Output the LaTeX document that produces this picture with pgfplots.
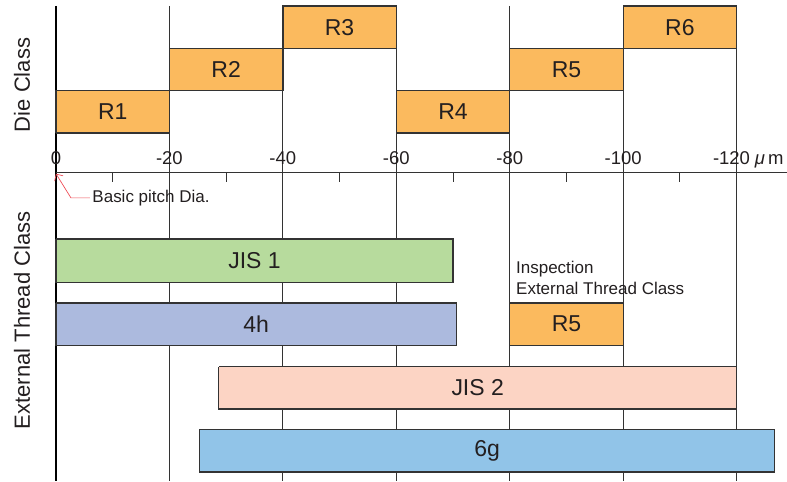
\documentclass[border=0pt]{standalone}
\usepackage{pgfplots}
\pgfplotsset{compat=1.18}
\usepackage{fontspec}
\setmainfont{Liberation Sans}
\usetikzlibrary{arrows.meta}

\definecolor{rfill}{HTML}{FBBA5E}
\definecolor{jisone}{HTML}{B7DB9D}
\definecolor{fourh}{HTML}{ACBADE}
\definecolor{jistwo}{HTML}{FCD4C4}
\definecolor{sixg}{HTML}{91C4E8}
\definecolor{edge}{HTML}{333333}
\definecolor{txt}{HTML}{231F20}
\definecolor{arrowred}{HTML}{EE4E58}

\begin{document}
\begin{tikzpicture}[
    bar/.style={draw=edge, line width=1.3pt},
    lab/.style={font=\fontsize{23}{26}\selectfont, text=txt},
    ticklab/.style={font=\fontsize{18.5}{20}\selectfont, text=txt, anchor=base},
    side/.style={font=\fontsize{22}{24}\selectfont, text=txt, rotate=90},
  ]
\begin{axis}[
    scale only axis, width=787pt, height=481pt,
    x dir=reverse,
    xmin=-128.8, xmax=9.87,
    ymin=-7.264, ymax=4.08,
    hide axis, clip=false,
  ]
\path (rel axis cs:0,0) rectangle (rel axis cs:1,1);

% grid lines
\pgfplotsinvokeforeach{-20,-40,-60,-80,-100,-120}{
  \draw[edge, line width=1pt] (axis cs:#1,3.94) -- (axis cs:#1,-7.26);
}
\draw[black, line width=1.3pt] (axis cs:0,3.94) -- (axis cs:0,-7.26);

% axis line with minor ticks
\draw[edge, line width=0.9pt] (axis cs:0,0) -- (axis cs:-128.8,0);
\pgfplotsinvokeforeach{-10,-30,-50,-70,-90,-110}{
  \draw[edge, line width=0.9pt] (axis cs:#1,0) -- (axis cs:#1,-0.21);
}
\pgfplotsinvokeforeach{0,-20,-40,-60,-80,-100}{
  \node[ticklab] at (axis cs:#1,0.19) {#1};
}
\node[ticklab] at (axis cs:-119.1,0.19) {-120};
\node[ticklab, anchor=base west] at (axis cs:-122.6,0.19) {{\itshape μ}\,m};

% die class
\addplot[bar, fill=rfill] coordinates {(0,0.94) (-20,0.94) (-20,1.94) (0,1.94) (0,0.94)};
\addplot[bar, fill=rfill] coordinates {(-20,1.94) (-40,1.94) (-40,2.94) (-20,2.94) (-20,1.94)};
\addplot[bar, fill=rfill] coordinates {(-40,2.94) (-60,2.94) (-60,3.94) (-40,3.94) (-40,2.94)};
\addplot[bar, fill=rfill] coordinates {(-60,0.94) (-80,0.94) (-80,1.94) (-60,1.94) (-60,0.94)};
\addplot[bar, fill=rfill] coordinates {(-80,1.94) (-100,1.94) (-100,2.94) (-80,2.94) (-80,1.94)};
\addplot[bar, fill=rfill] coordinates {(-100,2.94) (-120,2.94) (-120,3.94) (-100,3.94) (-100,2.94)};
\node[lab] at (axis cs:-10,1.44) {R1};
\node[lab] at (axis cs:-30,2.44) {R2};
\node[lab] at (axis cs:-50,3.44) {R3};
\node[lab] at (axis cs:-70,1.44) {R4};
\node[lab] at (axis cs:-90,2.44) {R5};
\node[lab] at (axis cs:-110,3.44) {R6};

% external thread class
\addplot[bar, fill=jisone] coordinates {(0,-1.56) (-70,-1.56) (-70,-2.58) (0,-2.58) (0,-1.56)};
\addplot[bar, fill=fourh] coordinates {(0,-3.07) (-70.6,-3.07) (-70.6,-4.07) (0,-4.07) (0,-3.07)};
\addplot[bar, fill=rfill] coordinates {(-80,-3.07) (-100,-3.07) (-100,-4.07) (-80,-4.07) (-80,-3.07)};
\addplot[bar, fill=jistwo] coordinates {(-28.7,-4.57) (-120,-4.57) (-120,-5.57) (-28.7,-5.57) (-28.7,-4.57)};
\addplot[bar, fill=sixg] coordinates {(-25.3,-6.06) (-126.7,-6.06) (-126.7,-7.06) (-25.3,-7.06) (-25.3,-6.06)};
\node[lab] at (axis cs:-35,-2.07) {JIS 1};
\node[lab] at (axis cs:-35.3,-3.57) {4h};
\node[lab] at (axis cs:-90,-3.57) {R5};
\node[lab] at (axis cs:-74.35,-5.07) {JIS 2};
\node[lab] at (axis cs:-76,-6.56) {6g};

\node[font=\fontsize{17}{21}\selectfont, text=txt, anchor=west, align=left, inner xsep=0pt]
  at (axis cs:-81.1,-2.49) {Inspection\\External Thread Class};

% basic pitch annotation
\draw[arrowred, line width=0.7pt, -{Straight Barb[length=5pt]}]
  (axis cs:-5.99,-0.59) -- (axis cs:-2.64,-0.59) -- (axis cs:0,-0.02);
\node[font=\fontsize{17}{18}\selectfont, text=txt, anchor=west, inner xsep=0pt] at (axis cs:-6.4,-0.59) {Basic pitch Dia.};

% side labels
\node[side] at (axis cs:5.99,2.075) {Die Class};
\node[side] at (axis cs:5.99,-3.48) {External Thread Class};
\end{axis}
\end{tikzpicture}
\end{document}
